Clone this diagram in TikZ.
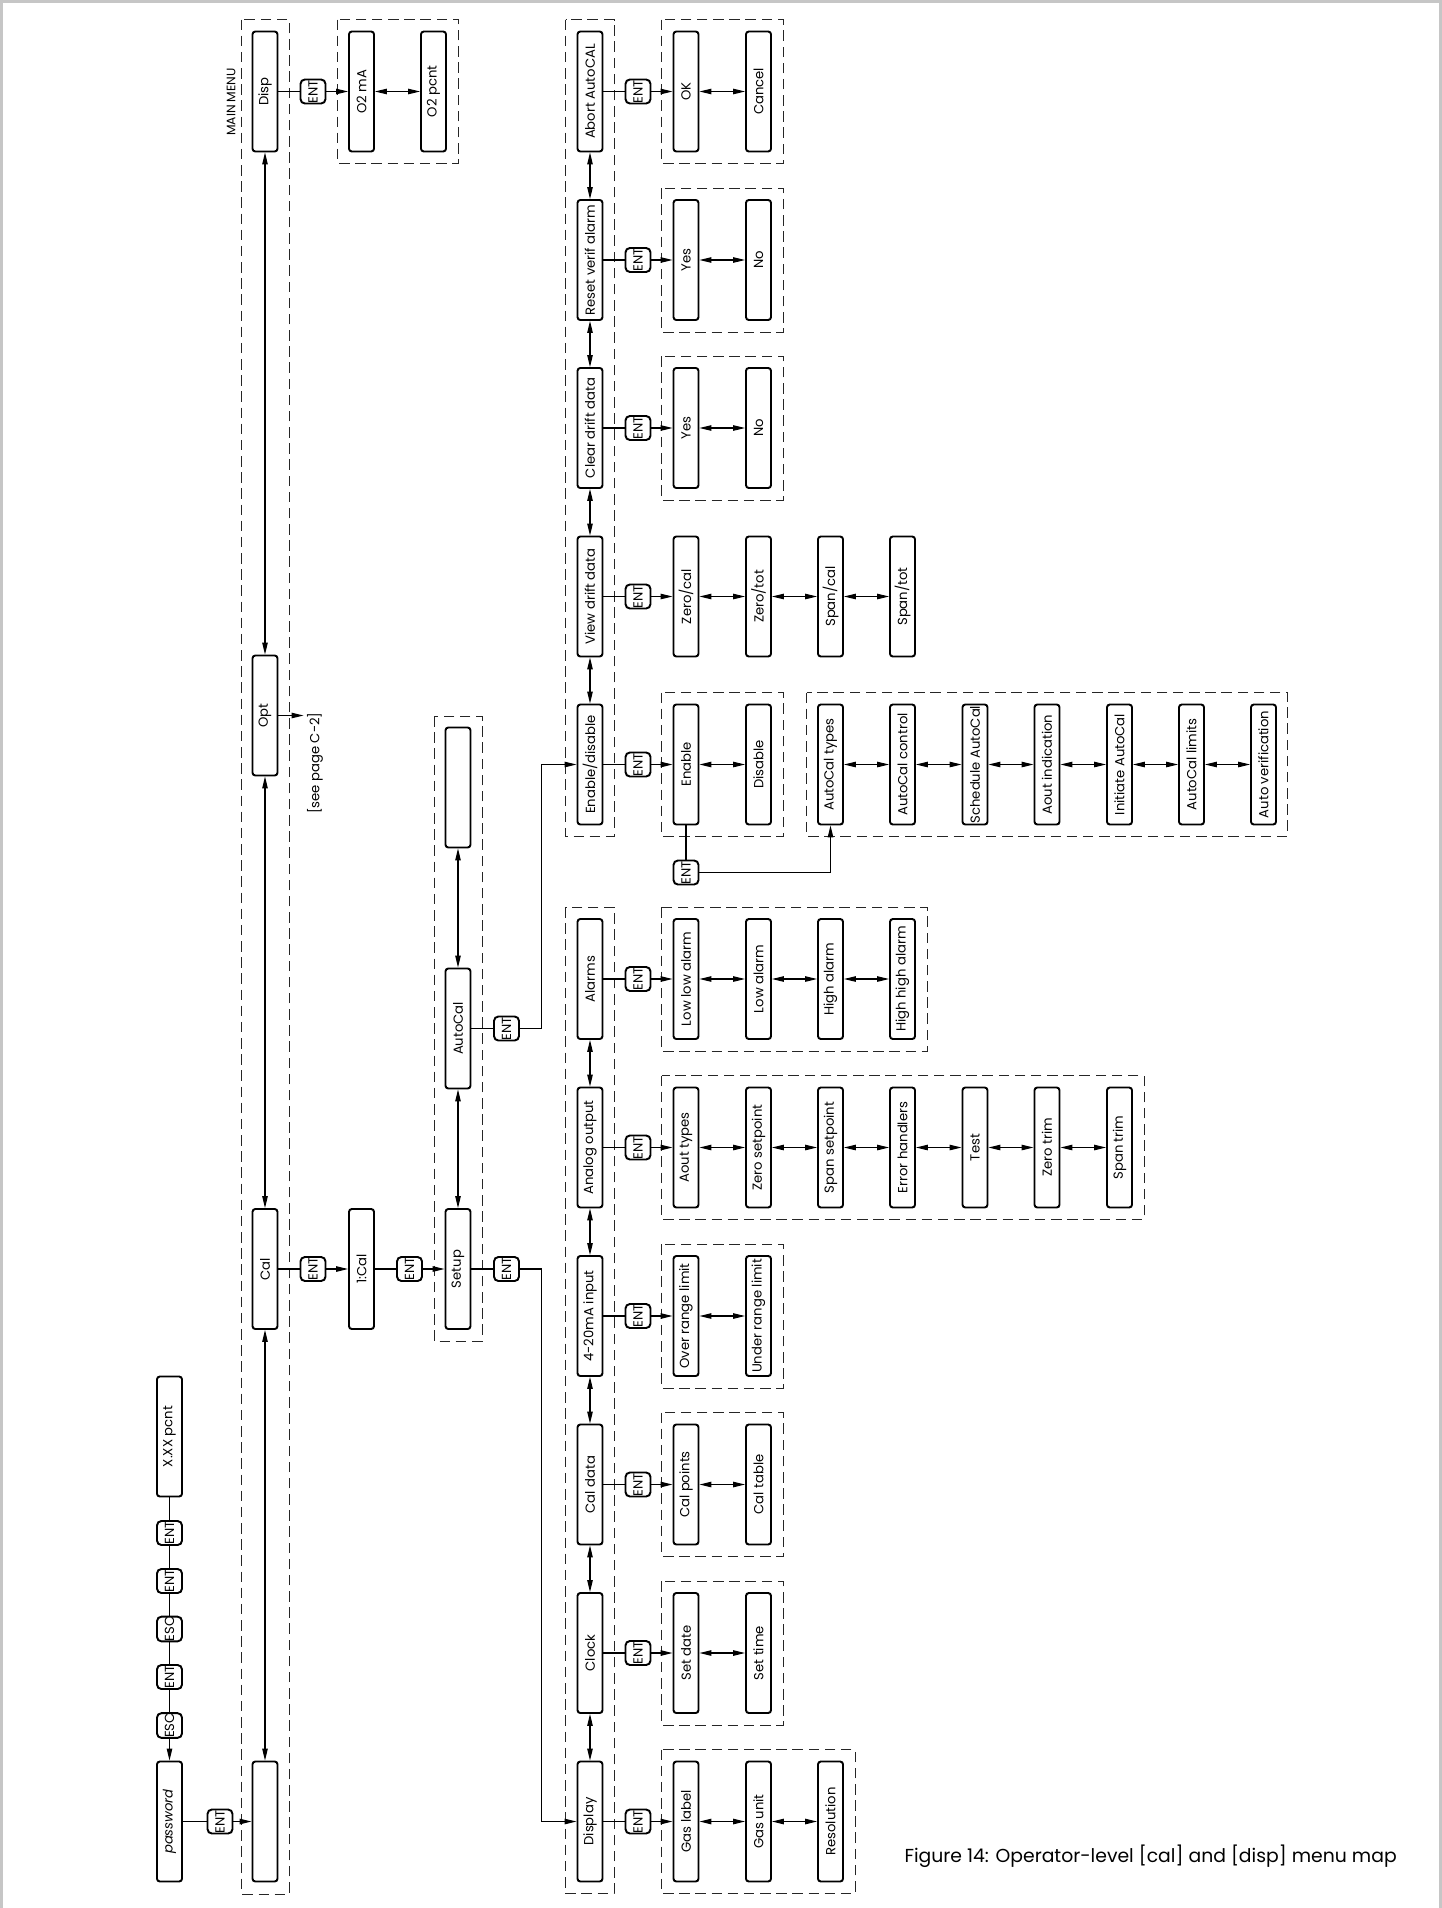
\documentclass[tikz,border=0pt]{standalone}
\usepackage{fontspec}
\setmainfont{Poppins}
\usetikzlibrary{arrows.meta}
\begin{document}
\begin{tikzpicture}[
  line width=0.6pt,
  >={Triangle[length=2.4mm,width=1.1mm]},
  menu/.style={draw, fill=white, rounded corners=1.6pt, line width=1.1pt, rotate=90, minimum width=2.4cm, minimum height=0.5cm, inner sep=0pt, font=\fontsize{7.5}{9}\selectfont},
  key/.style={draw, fill=white, rounded corners=2.5pt, line width=1.1pt, rotate=90, minimum width=0.48cm, minimum height=0.5cm, inner sep=0pt, font=\fontsize{7.5}{9}\selectfont},
  frame/.style={dash pattern=on 6pt off 3.2pt, line width=0.55pt, black!85},
  note/.style={rotate=90, inner sep=0pt, font=\fontsize{7.5}{9}\selectfont}
]
\useasboundingbox (0,0) rectangle (28.84,-38.16);
\draw[gray!45, line width=1.2pt] (0.03,-38.16) -- (0.03,-0.03) -- (28.81,-0.03) -- (28.81,-38.16);

\draw[frame] (4.83,-0.39) rectangle (5.79,-37.88);
\draw[frame] (6.75,-0.39) rectangle (9.17,-3.27);
\draw[frame] (8.68,-14.32) rectangle (9.64,-26.82);
\draw[frame] (11.31,-0.39) rectangle (12.28,-16.72);
\draw[frame] (11.31,-18.14) rectangle (12.28,-37.87);
\draw[frame] (13.23,-0.39) rectangle (15.66,-3.27);
\draw[frame] (13.23,-3.76) rectangle (15.66,-6.64);
\draw[frame] (13.23,-7.12) rectangle (15.66,-10.00);
\draw[frame] (13.23,-13.85) rectangle (15.66,-16.73);
\draw[frame] (16.13,-13.85) rectangle (25.75,-16.73);
\draw[frame] (13.23,-18.14) rectangle (18.54,-21.02);
\draw[frame] (13.23,-21.51) rectangle (22.88,-24.39);
\draw[frame] (13.23,-24.88) rectangle (15.66,-27.76);
\draw[frame] (13.23,-28.25) rectangle (15.66,-31.13);
\draw[frame] (13.23,-31.62) rectangle (15.66,-34.50);
\draw[frame] (13.23,-34.99) rectangle (17.10,-37.87);

\node[menu] (pw) at (3.39,-36.43) {\itshape password};
\node[key] (k1) at (3.39,-34.51) {ESC};
\node[key] (k2) at (3.39,-33.54) {ENT};
\node[key] (k3) at (3.39,-32.58) {ESC};
\node[key] (k4) at (3.39,-31.62) {ENT};
\node[key] (k5) at (3.39,-30.66) {ENT};
\node[menu] (xx) at (3.39,-28.73) {X.XX pcnt};
\node[key] (k6) at (4.40,-36.43) {ENT};

\node[note, font=\fontsize{7}{8}\selectfont] (mt) at (4.62,-2.04) {MAIN MENU};
\node[menu] (m1) at (5.30,-1.83) {Disp};
\node[menu] (m2) at (5.30,-14.31) {Opt};
\node[menu] (m3) at (5.30,-25.38) {Cal};
\node[menu] (m4) at (5.30,-36.43) {};
\node[key] (e1) at (6.26,-1.83) {ENT};
\node[menu] (o1) at (7.23,-1.83) {O2 mA};
\node[menu] (o2) at (8.67,-1.83) {O2 pcnt};
\coordinate (sp) at (6.07,-14.31);
\node[note, anchor=east] (spl) at (6.30,-14.24) {[see page C-2]};
\node[key] (e2) at (6.26,-25.38) {ENT};
\node[menu] (c1) at (7.23,-25.38) {1:Cal};
\node[key] (e3) at (8.19,-25.38) {ENT};
\node[menu] (u1) at (9.16,-15.75) {};
\node[menu] (u2) at (9.16,-20.57) {AutoCal};
\node[menu] (u3) at (9.16,-25.38) {Setup};
\node[key] (e4) at (10.13,-20.57) {ENT};
\node[key] (e5) at (10.13,-25.38) {ENT};
\coordinate (j1) at (10.83,-20.57);
\coordinate (j2) at (10.83,-25.38);

\node[menu] (a1) at (11.80,-1.83) {Abort AutoCAL};
\node[menu] (a2) at (11.80,-5.20) {Reset verif alarm};
\node[menu] (a3) at (11.80,-8.56) {Clear drift data};
\node[menu] (a4) at (11.80,-11.93) {View drift data};
\node[menu] (a5) at (11.80,-15.29) {Enable/disable};
\node[key] (f1) at (12.76,-1.83) {ENT};
\node[key] (f2) at (12.76,-5.20) {ENT};
\node[key] (f3) at (12.76,-8.56) {ENT};
\node[key] (f4) at (12.76,-11.93) {ENT};
\node[key] (f5) at (12.76,-15.29) {ENT};
\node[menu] (ok) at (13.72,-1.83) {OK};
\node[menu] (cn) at (15.17,-1.83) {Cancel};
\node[menu] (ry) at (13.72,-5.20) {Yes};
\node[menu] (rn) at (15.17,-5.20) {No};
\node[menu] (cy) at (13.72,-8.56) {Yes};
\node[menu] (cd) at (15.17,-8.56) {No};
\node[menu] (z1) at (13.72,-11.93) {Zero/cal};
\node[menu] (z2) at (15.17,-11.93) {Zero/tot};
\node[menu] (z3) at (16.61,-11.93) {Span/cal};
\node[menu] (z4) at (18.05,-11.93) {Span/tot};
\node[menu] (en) at (13.72,-15.29) {Enable};
\node[menu] (di) at (15.17,-15.29) {Disable};
\node[key] (ek) at (13.72,-17.45) {ENT};
\node[menu] (t1) at (16.61,-15.29) {AutoCal types};
\node[menu] (t2) at (18.05,-15.29) {AutoCal control};
\node[menu] (t3) at (19.50,-15.29) {Schedule AutoCal};
\node[menu] (t4) at (20.94,-15.29) {Aout indication};
\node[menu] (t5) at (22.39,-15.29) {Initiate AutoCal};
\node[menu] (t6) at (23.83,-15.29) {AutoCal limits};
\node[menu] (t7) at (25.27,-15.29) {Auto verification};

\node[menu] (b1) at (11.80,-19.58) {Alarms};
\node[menu] (b2) at (11.80,-22.95) {Analog output};
\node[menu] (b3) at (11.80,-26.32) {4-20mA input};
\node[menu] (b4) at (11.80,-29.69) {Cal data};
\node[menu] (b5) at (11.80,-33.06) {Clock};
\node[menu] (b6) at (11.80,-36.43) {Display};
\node[key] (g1) at (12.76,-19.58) {ENT};
\node[key] (g2) at (12.76,-22.95) {ENT};
\node[key] (g3) at (12.76,-26.32) {ENT};
\node[key] (g4) at (12.76,-29.69) {ENT};
\node[key] (g5) at (12.76,-33.06) {ENT};
\node[key] (g6) at (12.76,-36.43) {ENT};
\node[menu] (h1) at (13.72,-19.58) {Low low alarm};
\node[menu] (h2) at (15.17,-19.58) {Low alarm};
\node[menu] (h3) at (16.61,-19.58) {High alarm};
\node[menu] (h4) at (18.05,-19.58) {High high alarm};
\node[menu] (n1) at (13.72,-22.95) {Aout types};
\node[menu] (n2) at (15.17,-22.95) {Zero setpoint};
\node[menu] (n3) at (16.61,-22.95) {Span setpoint};
\node[menu] (n4) at (18.05,-22.95) {Error handlers};
\node[menu] (n5) at (19.50,-22.95) {Test};
\node[menu] (n6) at (20.94,-22.95) {Zero trim};
\node[menu] (n7) at (22.39,-22.95) {Span trim};
\node[menu] (l1) at (13.72,-26.32) {Over range limit};
\node[menu] (l2) at (15.17,-26.32) {Under range limit};
\node[menu] (p1) at (13.72,-29.69) {Cal points};
\node[menu] (p2) at (15.17,-29.69) {Cal table};
\node[menu] (d1) at (13.72,-33.06) {Set date};
\node[menu] (d2) at (15.17,-33.06) {Set time};
\node[menu] (s1) at (13.72,-36.43) {Gas label};
\node[menu] (s2) at (15.17,-36.43) {Gas unit};
\node[menu] (s3) at (16.61,-36.43) {Resolution};

\node[anchor=west, inner sep=0pt, font=\fontsize{10.7}{13}\selectfont] (cap) at (18.08,-37.12) {Figure 14: Operator-level [cal] and [disp] menu map};

\draw (xx) -- (k5);
\draw (k5) -- (k4);
\draw (k4) -- (k3);
\draw (k3) -- (k2);
\draw (k2) -- (k1);
\draw[->] (k1) -- (pw);
\draw (pw) -- (k6);
\draw[->] (k6) -- (m4);

\draw[<->] (m1) -- (m2);
\draw[<->] (m2) -- (m3);
\draw[<->] (m3) -- (m4);
\draw (m1) -- (e1);
\draw[->] (e1) -- (o1);
\draw[<->] (o1) -- (o2);
\draw[->] (m2) -- (sp);
\draw (m3) -- (e2);
\draw[->] (e2) -- (c1);
\draw (c1) -- (e3);
\draw[->] (e3) -- (u3);
\draw[<->] (u1) -- (u2);
\draw[<->] (u2) -- (u3);
\draw (u2) -- (e4);
\draw[->] (e4) -- (j1) |- (a5);
\draw (u3) -- (e5);
\draw[->] (e5) -- (j2) |- (b6);

\draw[<->] (a1) -- (a2);
\draw[<->] (a2) -- (a3);
\draw[<->] (a3) -- (a4);
\draw[<->] (a4) -- (a5);
\draw (a1) -- (f1);
\draw[->] (f1) -- (ok);
\draw[<->] (ok) -- (cn);
\draw (a2) -- (f2);
\draw[->] (f2) -- (ry);
\draw[<->] (ry) -- (rn);
\draw (a3) -- (f3);
\draw[->] (f3) -- (cy);
\draw[<->] (cy) -- (cd);
\draw (a4) -- (f4);
\draw[->] (f4) -- (z1);
\draw[<->] (z1) -- (z2);
\draw[<->] (z2) -- (z3);
\draw[<->] (z3) -- (z4);
\draw (a5) -- (f5);
\draw[->] (f5) -- (en);
\draw[<->] (en) -- (di);
\draw (en) -- (ek);
\draw[->] (ek) -| (t1);
\draw[<->] (t1) -- (t2);
\draw[<->] (t2) -- (t3);
\draw[<->] (t3) -- (t4);
\draw[<->] (t4) -- (t5);
\draw[<->] (t5) -- (t6);
\draw[<->] (t6) -- (t7);

\draw[<->] (b1) -- (b2);
\draw[<->] (b2) -- (b3);
\draw[<->] (b3) -- (b4);
\draw[<->] (b4) -- (b5);
\draw[<->] (b5) -- (b6);
\draw (b1) -- (g1);
\draw[->] (g1) -- (h1);
\draw[<->] (h1) -- (h2);
\draw[<->] (h2) -- (h3);
\draw[<->] (h3) -- (h4);
\draw (b2) -- (g2);
\draw[->] (g2) -- (n1);
\draw[<->] (n1) -- (n2);
\draw[<->] (n2) -- (n3);
\draw[<->] (n3) -- (n4);
\draw[<->] (n4) -- (n5);
\draw[<->] (n5) -- (n6);
\draw[<->] (n6) -- (n7);
\draw (b3) -- (g3);
\draw[->] (g3) -- (l1);
\draw[<->] (l1) -- (l2);
\draw (b4) -- (g4);
\draw[->] (g4) -- (p1);
\draw[<->] (p1) -- (p2);
\draw (b5) -- (g5);
\draw[->] (g5) -- (d1);
\draw[<->] (d1) -- (d2);
\draw (b6) -- (g6);
\draw[->] (g6) -- (s1);
\draw[<->] (s1) -- (s2);
\draw[<->] (s2) -- (s3);
\end{tikzpicture}
\end{document}
